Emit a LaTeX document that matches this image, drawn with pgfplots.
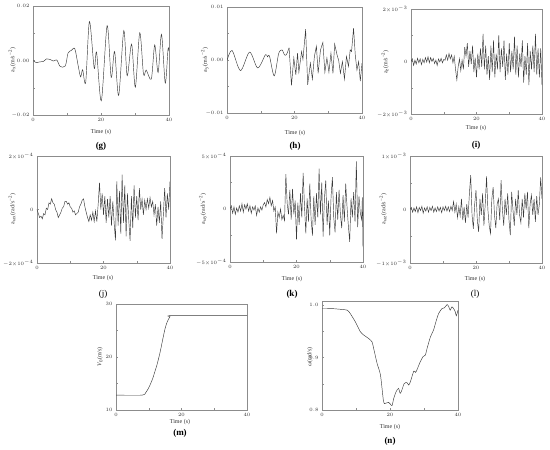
\documentclass[border=0pt]{standalone}
\usepackage{pgfplots}
\pgfplotsset{compat=1.18}
\usepackage{fontspec}
\setmainfont{Liberation Serif}
\definecolor{axisgray}{HTML}{8C8C8C}
\definecolor{linegray}{HTML}{3A3A3A}
\definecolor{txt}{HTML}{333333}
\pgfplotsset{
  panel/.style={
    scale only axis,
    xmin=0, xmax=40, xtick={0,20,40},
    scaled y ticks=false, scaled x ticks=false,
    minor x tick num=1, minor y tick num=1,
    tick align=inside, xtick pos=bottom, ytick pos=left,
    axis line style={axisgray, line width=0.5pt},
    major tick length=2pt, minor tick length=1.5pt,
    every tick/.style={axisgray, line width=0.4pt},
    tick label style={font=\fontsize{4}{4}\selectfont, text=txt},
    clip=true,
  },
  sig/.style={linegray, line width=0.45pt, mark=none},
}
\tikzset{
  xl/.style={font=\fontsize{6}{6}\selectfont, text=txt},
  yl/.style={font=\fontsize{6}{6}\selectfont, text=txt, rotate=90},
  pl/.style={font=\fontsize{9}{9}\selectfont\bfseries, text=black},
  plr/.style={font=\fontsize{9}{9}\selectfont, text=black},
}
\begin{document}
\begin{tikzpicture}
\useasboundingbox (0pt,0pt) rectangle (550pt,450pt);

% (g)
\begin{axis}[panel, at={(33pt,335pt)}, anchor=south west, width=136pt, height=109pt,
  ymin=-0.02, ymax=0.02, ytick={-0.02,0,0.02}, yticklabels={$-0.02$,$0.00$,$0.02$}]
\addplot[sig, smooth, tension=0.5] coordinates {
(0,0.0000)(1,-0.0008)(2,-0.0005)(3,-0.0004)(4,0.0006)(5,0.0004)(6,-0.0002)(7,0.0002)
(8,-0.0022)(9.5,-0.0020)(10.3,0.0027)(11.3,0.0037)(12.3,0.0043)(13.3,-0.0020)(14,-0.0060)
(14.6,-0.0034)(15.5,-0.0080)(16.6,0.0143)(18,-0.0028)(18.7,0.0030)(20.1,-0.0148)(21.8,0.0128)
(23,-0.0062)(24,0.0033)(25.2,-0.0128)(26.7,0.0110)(27.7,-0.0056)(29,0.0060)(30.1,-0.0098)
(31.4,0.0102)(32.5,-0.0050)(33.3,-0.0035)(34.8,-0.0068)(35.8,0.0057)(36.8,-0.0044)(37.8,0.0096)
(38.9,-0.0083)(39.7,0.0040)(40,0.0035)};
\end{axis}
\node[xl] at (101pt,318pt) {Time (s)};
\node[pl] at (101pt,304pt) {(g)};
\node[yl] at (12pt,390pt) {a\textsubscript{x}(m/s\textsuperscript{−2})};

% (h)
\begin{axis}[panel, at={(227pt,337pt)}, anchor=south west, width=135pt, height=106pt,
  ymin=-0.01, ymax=0.01, ytick={-0.01,0,0.01}, yticklabels={$-0.01$,$0.00$,$0.01$}]
\addplot[sig, smooth, tension=0.5] coordinates {
(0,-0.0001)(1.5,0.0018)(4,-0.0020)(6.7,0.0015)(9.1,-0.0015)(11.4,0.0010)(12,0.0006)(12.6,0.0007)
(14,-0.0030)(15.3,0.0012)(16.3,0.0019)(17,0.0010)(17.6,0.0010)(18.4,0.0023)};
\addplot[sig] coordinates {
(18.4,0.0023)(19.1,-0.0048)(19.8,0.0004)(20.4,-0.0028)(20.9,0.0013)(21.3,-0.0023)(22.1,0.0016)
(22.5,0.0001)(23.3,0.0058)(23.9,-0.0047)(24.7,-0.0006)(25.3,-0.0036)(25.9,0.0007)(26.5,0.0026)
(27,-0.0025)(27.7,0.0019)(28.4,0.0033)(29,-0.0023)(29.6,0.0004)(30.2,-0.0023)(30.8,0.0013)
(31.4,-0.0025)(31.9,0.0030)(32.6,0.0010)(33.1,-0.0001)(33.6,-0.0025)(34.2,-0.0003)(34.8,-0.0036)
(35.4,0.0007)(36,-0.0012)(36.5,0.0019)(36.9,0.0016)(37.5,0.0060)(38,0.0010)(38.5,-0.0019)
(39,-0.0003)(39.5,-0.0040)(40,-0.0006)};
\end{axis}
\node[xl] at (295pt,317pt) {Time (s)};
\node[pl] at (295pt,304pt) {(h)};
\node[yl] at (205pt,390pt) {a\textsubscript{y}(m/s\textsuperscript{−2})};

% (i)
\begin{axis}[panel, at={(411pt,336pt)}, anchor=south west, width=131pt, height=105pt,
  ymin=-2, ymax=2, ytick={-2,0,2}, yticklabels={$-2{\times}10^{-3}$,$0$,$2{\times}10^{-3}$}]
\addplot[sig] coordinates {
(0,0.0)(0.4,0.1)(0.8,-0.15)(1.2,0.05)(1.6,-0.1)(2.0,0.12)(2.4,-0.05)(2.8,0.1)(3.2,-0.12)(3.6,0.08)
(4.0,-0.05)(4.4,0.15)(4.8,-0.02)(5.2,0.18)(5.6,-0.05)(6.0,0.15)(6.4,0.0)(6.8,0.12)(7.2,-0.08)(7.6,0.05)
(8.0,-0.15)(8.4,0.1)(8.8,-0.02)(9.2,0.12)(9.6,-0.05)(10.0,0.08)(10.4,0.05)(10.8,0.25)(11.2,0.05)(11.6,0.3)
(12.0,0.1)(12.4,0.25)(12.8,-0.05)(13.2,0.2)(13.6,-0.3)(14.0,-0.7)(14.4,-0.2)(14.8,0.1)(15.2,-0.35)(15.6,0.05)
(16.0,-0.3)(16.4,0.55)(16.8,0.2)(17.2,0.7)(17.6,-0.2)(18.0,0.4)(18.4,-0.1)(18.8,0.6)(19.2,-0.4)(19.6,0.15)
(20.0,-0.6)(20.4,0.3)(20.8,-0.3)(21.2,0.5)(21.6,-0.2)(22.0,1.05)(22.4,-0.3)(22.8,0.6)(23.2,-0.5)(23.6,0.2)
(24.0,-0.7)(24.4,0.6)(24.8,-0.4)(25.2,0.8)(25.6,-0.6)(26.0,0.3)(26.4,-0.3)(26.8,1.0)(27.2,-0.4)(27.6,0.5)
(28.0,-0.2)(28.4,0.8)(28.8,-0.7)(29.2,0.3)(29.6,-0.5)(30.0,0.7)(30.4,-0.4)(30.8,0.4)(31.2,-0.3)(31.6,0.95)
(32.0,-0.5)(32.4,0.6)(32.8,-0.6)(33.2,0.3)(33.6,-0.2)(34.0,0.8)(34.4,-0.8)(34.8,0.2)(35.2,-0.5)(35.6,0.7)
(36.0,-0.9)(36.4,0.4)(36.8,-0.3)(37.2,0.6)(37.6,-0.4)(38.0,1.05)(38.4,-0.5)(38.8,0.5)(39.2,-0.6)(39.6,0.5)
(40.0,-0.9)};
\end{axis}
\node[xl] at (476pt,322pt) {Time (s)};
\node[pl] at (476pt,305pt) {(i)};
\node[yl] at (385pt,388pt) {a\textsubscript{z}(m/s\textsuperscript{−2})};

% (j)
\begin{axis}[panel, at={(37pt,187pt)}, anchor=south west, width=133pt, height=107pt,
  ymin=-2, ymax=2, ytick={-2,0,2}, yticklabels={$-2{\times}10^{-4}$,$0$,$2{\times}10^{-4}$}]
\addplot[sig] coordinates {
(0,0.0)(0.4,-0.15)(0.8,-0.3)(1.2,-0.25)(1.6,-0.35)(2.0,-0.15)(2.4,-0.2)(2.8,0.05)(3.2,0.0)(3.6,0.25)
(4.0,0.2)(4.4,0.4)(4.8,0.25)(5.2,0.2)(5.6,0.0)(6.0,-0.1)(6.4,-0.3)(6.8,-0.2)(7.2,-0.1)(7.6,0.05)
(8.0,0.1)(8.4,0.3)(8.8,0.3)(9.2,0.2)(9.6,0.25)(10.0,0.1)(10.4,0.05)(10.8,-0.1)(11.2,-0.05)(11.6,-0.2)
(12.0,-0.15)(12.4,-0.1)(12.8,0.1)(13.2,0.2)(13.6,0.35)(14.0,0.4)(14.4,0.1)(14.8,-0.1)(15.2,-0.3)(15.6,-0.45)
(16.0,-0.2)(16.4,-0.4)(16.8,-0.1)(17.2,-0.45)(17.6,-0.05)(18.0,-0.45)(18.4,0.2)(18.8,1.0)(19.2,0.0)(19.6,0.6)
(20.0,-0.2)(20.4,0.5)(20.8,-0.5)(21.2,0.4)(21.6,-0.3)(22.0,0.5)(22.4,-0.6)(22.8,0.3)(23.2,-0.5)(23.6,-1.15)
(24.0,1.05)(24.4,-0.6)(24.8,0.7)(25.2,-0.9)(25.6,1.3)(26.0,-0.5)(26.4,0.9)(26.8,-1.0)(27.2,0.6)(27.6,-0.4)
(28.0,-1.17)(28.4,0.5)(28.8,-0.7)(29.2,0.9)(29.6,-0.3)(30.0,0.5)(30.4,-0.4)(30.8,0.8)(31.2,0.0)(31.6,0.4)
(32.0,-0.2)(32.4,0.35)(32.8,0.0)(33.2,0.4)(33.6,0.05)(34.0,0.45)(34.4,0.1)(34.8,0.3)(35.2,-0.2)(35.6,0.2)
(36.0,-0.6)(36.4,0.1)(36.8,-0.5)(37.2,0.3)(37.6,-1.1)(38.0,-0.2)(38.4,0.8)(38.8,-0.3)(39.2,0.6)(39.6,0.0)
(40.0,1.05)};
\end{axis}
\node[xl] at (103pt,172pt) {Time (s)};
\node[plr] at (103pt,156pt) {(j)};
\node[yl] at (12pt,241pt) {a\textsubscript{ωx}(rad/s\textsuperscript{−2})};

% (k)
\begin{axis}[panel, at={(230pt,188pt)}, anchor=south west, width=133pt, height=106pt,
  ymin=-5, ymax=5, ytick={-5,0,5}, yticklabels={$-5{\times}10^{-4}$,$0$,$5{\times}10^{-4}$}]
\addplot[sig] coordinates {
(0,0.0)(0.4,0.3)(0.8,-0.4)(1.2,0.2)(1.6,-0.5)(2.0,0.1)(2.4,-0.3)(2.8,0.3)(3.2,-0.2)(3.6,0.5)
(4.0,-0.3)(4.4,0.4)(4.8,0.0)(5.2,0.5)(5.6,-0.2)(6.0,0.3)(6.4,-0.4)(6.8,0.2)(7.2,-0.1)(7.6,0.3)
(8.0,-0.6)(8.4,0.1)(8.8,-0.3)(9.2,0.2)(9.6,-0.1)(10.0,0.4)(10.4,0.6)(10.8,0.2)(11.2,0.9)(11.6,0.5)
(12.0,1.1)(12.4,0.3)(12.8,0.8)(13.2,-0.2)(13.6,0.2)(14.0,-2.3)(14.4,-0.3)(14.8,-0.8)(15.2,0.0)(15.6,-1.0)
(16.0,-0.6)(16.4,-1.1)(16.8,3.3)(17.2,0.5)(17.6,-0.5)(18.0,1.8)(18.4,-1.0)(18.8,1.9)(19.2,-0.5)(19.6,0.8)
(20.0,-2.9)(20.4,0.6)(20.8,-1.5)(21.2,1.5)(21.6,-0.8)(22.0,3.4)(22.4,0.3)(22.8,-2.3)(23.2,1.0)(23.6,-1.2)
(24.0,2.4)(24.4,-1.0)(24.8,-2.5)(25.2,1.2)(25.6,-1.5)(26.0,1.5)(26.4,-0.8)(26.8,3.8)(27.2,-0.5)(27.6,2.5)
(28.0,-2.6)(28.4,1.0)(28.8,2.7)(29.2,-1.5)(29.6,0.8)(30.0,-2.5)(30.4,1.2)(30.8,3.0)(31.2,-0.8)(31.6,-2.2)
(32.0,1.6)(32.4,-1.0)(32.8,1.8)(33.2,-0.5)(33.6,-1.8)(34.0,1.3)(34.4,-1.2)(34.8,2.4)(35.2,0.2)(35.6,-1.6)
(36.0,-3.1)(36.4,1.0)(36.8,-0.8)(37.2,1.6)(37.6,-1.2)(38.0,4.5)(38.4,-1.7)(38.8,1.2)(39.2,-0.4)(39.6,-1.0)
(39.8,1.1)(40.0,-3.6)};
\end{axis}
\node[xl] at (292pt,171pt) {Time (s)};
\node[pl] at (292pt,156pt) {(k)};
\node[yl] at (203pt,241pt) {a\textsubscript{ωy}(rad/s\textsuperscript{−2})};

% (l)
\begin{axis}[panel, at={(410pt,187pt)}, anchor=south west, width=132pt, height=107pt,
  ymin=-1, ymax=1, ytick={-1,0,1}, yticklabels={$-1{\times}10^{-3}$,$0$,$1{\times}10^{-3}$}]
\addplot[sig] coordinates {
(0,0.0)(0.4,0.04)(0.8,-0.05)(1.2,0.03)(1.6,-0.04)(2.0,0.05)(2.4,-0.06)(2.8,0.04)(3.2,-0.02)(3.6,0.06)
(4.0,-0.07)(4.4,0.03)(4.8,-0.03)(5.2,0.05)(5.6,-0.05)(6.0,0.04)(6.4,-0.02)(6.8,0.06)(7.2,-0.05)(7.6,0.03)
(8.0,-0.04)(8.4,0.05)(8.8,-0.03)(9.2,0.04)(9.6,-0.06)(10.0,0.05)(10.4,-0.02)(10.8,0.06)(11.2,-0.03)(11.6,0.05)
(12.0,-0.04)(12.4,0.06)(12.8,-0.02)(13.2,0.15)(13.6,-0.05)(14.0,0.1)(14.4,-0.15)(14.8,0.05)(15.2,-0.12)(15.6,0.2)
(16.0,-0.2)(16.4,0.05)(16.8,-0.25)(17.2,0.1)(17.6,-0.15)(18.0,0.3)(18.4,0.64)(18.8,-0.1)(19.2,-0.36)(19.6,0.1)
(20.0,0.36)(20.4,-0.2)(20.8,-0.42)(21.2,0.2)(21.6,-0.1)(22.0,0.3)(22.4,-0.3)(22.8,0.1)(23.2,0.62)(23.6,0.0)
(24.0,-0.3)(24.4,-0.45)(24.8,0.2)(25.2,0.42)(25.6,-0.1)(26.0,-0.35)(26.4,0.1)(26.8,0.2)(27.2,-0.2)(27.6,0.55)
(28.0,0.0)(28.4,-0.3)(28.8,0.2)(29.2,-0.1)(29.6,0.3)(30.0,-0.2)(30.4,-0.48)(30.8,0.33)(31.2,0.0)(31.6,-0.3)
(32.0,0.2)(32.4,-0.1)(32.8,0.36)(33.2,-0.1)(33.6,-0.25)(34.0,0.2)(34.4,-0.15)(34.8,0.3)(35.2,0.0)(35.6,0.33)
(36.0,-0.35)(36.4,0.1)(36.8,0.27)(37.2,-0.1)(37.6,0.2)(38.0,-0.23)(38.4,0.25)(38.8,-0.1)(39.2,0.1)(39.6,0.6)
(40.0,0.2)};
\end{axis}
\node[xl] at (475pt,171pt) {Time (s)};
\node[plr] at (475pt,156pt) {(l)};
\node[yl] at (383pt,241pt) {a\textsubscript{ωz}(rad/s\textsuperscript{−2})};

% (m)
\begin{axis}[panel, at={(116pt,40pt)}, anchor=south west, width=131pt, height=106pt,
  ymin=10, ymax=30, ytick={10,20,30}]
\addplot[sig, smooth, tension=0.4] coordinates {
(0,12.8)(8,12.8)(9,13.2)(10,14.2)(11,15.6)(11.5,16.5)(12,17.5)(12.5,18.5)(13,19.7)(13.5,21.0)
(14,22.5)(14.5,24.0)(15,25.4)(15.5,26.4)(16,27.1)(16.5,27.6)(17,27.8)(40,27.8)};
\end{axis}
\node[xl] at (180pt,28pt) {Time (s)};
\node[pl] at (180pt,17pt) {(m)};
\node[yl] at (100pt,93pt) {\textit{V}\textsubscript{0}(m/s)};

% (n)
\begin{axis}[panel, at={(322pt,40pt)}, anchor=south west, width=136pt, height=109pt,
  ymin=0.8, ymax=1.008, ytick={0.8,0.9,1.0}, yticklabels={$0.8$,$0.9$,$1.0$}, minor y tick num=1]
\addplot[sig, smooth, tension=0.4] coordinates {
(0,0.9937)(3,0.9935)(5,0.9924)(7.4,0.9905)(8.3,0.9841)(9.8,0.9683)(11.3,0.9492)(12.3,0.9429)
(13.7,0.9365)(14.7,0.9302)(15.2,0.9175)(16.2,0.8889)(17.2,0.8667)(18.1,0.8159)(18.6,0.8127)
(19.6,0.8146)(20.1,0.8114)(20.6,0.8083)(21.1,0.8222)(21.8,0.8349)(22.5,0.8413)(23.0,0.8317)
(23.5,0.8381)(24.2,0.8508)(25,0.8521)(25.5,0.8476)(26,0.8540)(27,0.8743)(27.5,0.8717)(27.9,0.8762)
(28.9,0.8921)(29.7,0.9016)(30.4,0.9048)(30.9,0.9175)(31.9,0.9397)(32.8,0.9524)(33.5,0.9683)
(34.3,0.9841)(35.3,0.9937)(36,0.9949)(36.8,1.0013)(37.3,0.9968)(37.7,0.9905)(38.2,0.9968)
(38.7,0.9937)(39.2,0.9873)(39.5,0.9797)(40,0.9905)};
\end{axis}
\node[xl] at (390pt,23pt) {Time (s)};
\node[pl] at (390pt,9pt) {(n)};
\node[yl] at (310pt,93pt) {\textit{ω}(rad/s)};
\end{tikzpicture}
\end{document}
